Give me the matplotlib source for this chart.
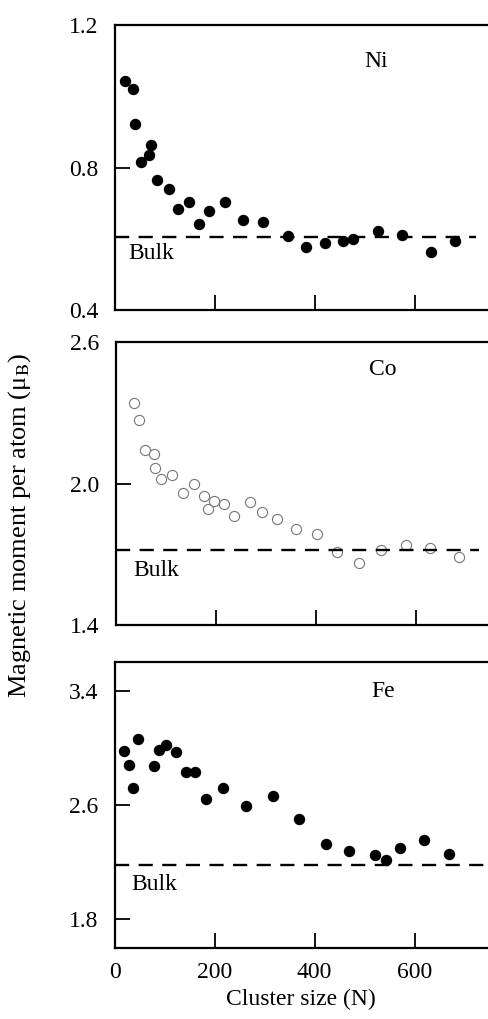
import matplotlib
matplotlib.use('Agg')
import matplotlib.pyplot as plt

plt.rcParams['font.family'] = ['Liberation Serif', 'DejaVu Serif']
plt.rcParams['mathtext.fontset'] = 'stix'

# Ni
ni_n = [20, 35, 40, 51, 67, 72, 83, 107, 125, 147, 168, 187, 219, 256, 296,
        345, 382, 419, 456, 475, 525, 573, 631, 680]
ni_m = [1.043, 1.019, 0.922, 0.816, 0.836, 0.862, 0.765, 0.739, 0.683, 0.702,
        0.641, 0.679, 0.702, 0.653, 0.646, 0.608, 0.578, 0.589, 0.593, 0.600,
        0.623, 0.611, 0.563, 0.594]

# Co
co_n = [35, 46, 58, 75, 77, 89, 111, 133, 156, 175, 184, 196, 215, 236, 268,
        292, 322, 359, 401, 441, 485, 529, 579, 627, 685]
co_m = [2.342, 2.268, 2.144, 2.125, 2.066, 2.017, 2.037, 1.959, 1.997, 1.945,
        1.891, 1.924, 1.915, 1.863, 1.920, 1.879, 1.851, 1.806, 1.786, 1.708,
        1.664, 1.719, 1.740, 1.727, 1.690]

# Fe
fe_n = [18, 28, 36, 46, 78, 88, 102, 122, 142, 161, 183, 216, 262, 316, 368,
        422, 469, 521, 543, 571, 618, 668]
fe_m = [2.975, 2.882, 2.719, 3.061, 2.875, 2.982, 3.020, 2.968, 2.828, 2.833,
        2.644, 2.719, 2.590, 2.665, 2.504, 2.329, 2.276, 2.250, 2.213, 2.297,
        2.357, 2.257]

elements = ['Ni', 'Co', 'Fe']
bulk = [0.606, 1.716, 2.18]
ylims = [(0.4, 1.2), (1.4, 2.6), (1.6, 3.6)]
yticks = [[0.4, 0.8, 1.2], [1.4, 2.0, 2.6], [1.8, 2.6, 3.4]]
xticks = [0, 200, 400, 600]
bulk_end = [722, 726, 760]

W, H = 488, 1019
fig = plt.figure(figsize=(W / 100, H / 100), dpi=100)

# axes boxes in pixels: left, top, bottom
boxes = [(115, 25, 310), (116, 342, 625), (114.5, 662, 948)]
label_pos = [(523, 1.097), (533, 2.484), (538, 3.394)]
bulk_pos = [(26, 0.56), (34, 1.633), (34, 2.043)]

series = [(ni_n, ni_m), (co_n, co_m), (fe_n, fe_m)]
fs = 17

for i, (l, t, b) in enumerate(boxes):
    ax = fig.add_axes([l / W, 1 - b / H, (W - l) / W, (b - t) / H])
    xs, ys = series[i]
    if elements[i] == 'Co':
        ax.plot(xs, ys, 'o', ms=7.3, mfc='white', mec='#777777', mew=0.8,
                clip_on=False)
    else:
        ax.plot(xs, ys, 'o', ms=7.2, color='black')
    ax.plot([0, bulk_end[i]], [bulk[i], bulk[i]], color='black', lw=1.7,
            dashes=(6, 4), clip_on=True)
    ax.set_xlim(0, (W - l) * 2)
    ax.set_ylim(*ylims[i])
    ax.set_yticks(yticks[i])
    ax.set_yticklabels(['%.1f' % v for v in yticks[i]])
    ax.set_xticks(xticks)
    ax.tick_params(direction='in', length=11, width=1.3, labelsize=fs,
                   pad=10, color='black')
    ax.tick_params(axis='y', pad=12)
    if i < 2:
        ax.set_xticklabels([])
    else:
        ax.set_xlabel('Cluster size (N)', fontsize=fs, labelpad=4)
    ax.spines['right'].set_visible(False)
    for s in ['left', 'top', 'bottom']:
        ax.spines[s].set_linewidth(1.6)
    ax.text(label_pos[i][0], label_pos[i][1], elements[i], fontsize=fs,
            ha='center', va='center')
    ax.text(bulk_pos[i][0], bulk_pos[i][1], 'Bulk', fontsize=fs,
            ha='left', va='center')

fig.text(20 / W, 1 - 525 / H, 'Magnetic moment per atom (μ$_{\\rm B}$)',
         rotation=90, fontsize=19, ha='center', va='center')

fig.savefig('out.png', dpi=100)
